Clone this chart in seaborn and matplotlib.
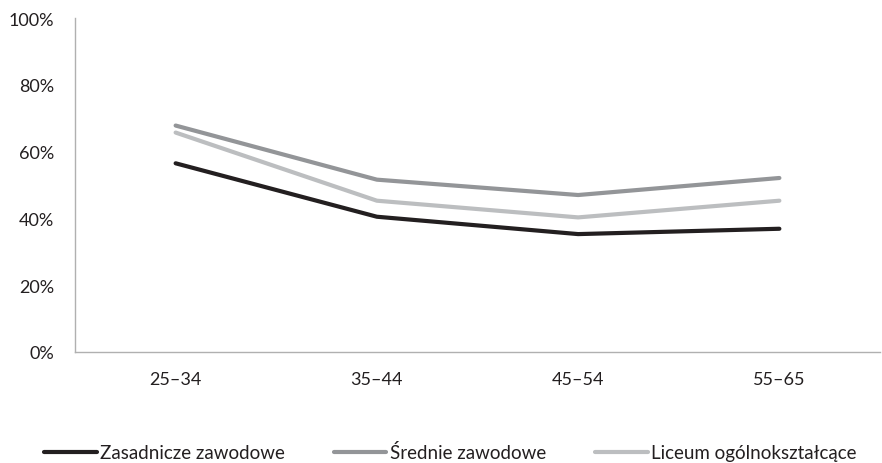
import matplotlib
matplotlib.use("Agg")
import matplotlib.pyplot as plt
import seaborn as sns
import pandas as pd
import numpy as np

categories = ["25–34", "35–44", "45–54", "55–65"]
series_names = ["Zasadnicze zawodowe", "Średnie zawodowe", "Liceum ogólnokształcące"]
zasadnicze = [56.5, 40.5, 35.3, 36.9]
srednie = [67.8, 51.6, 47.0, 52.1]
liceum = [65.7, 45.3, 40.3, 45.3]
colors = ["#231f20", "#939598", "#bcbec0"]
yticks = [0, 20, 40, 60, 80, 100]

rows = []
for name, vals in zip(series_names, [zasadnicze, srednie, liceum]):
    for c, v in zip(categories, vals):
        rows.append({"Wiek": c, "Udział": v, "Seria": name})
df = pd.DataFrame(rows)

sns.set_theme(style="white")
plt.rcParams["font.family"] = ["Lato", "DejaVu Sans"]

fig = plt.figure(figsize=(8.82, 4.64), dpi=100)
ax = fig.add_axes([75/882, 1 - 353/464, 805/882, (353-19)/464])
sns.lineplot(data=df, x="Wiek", y="Udział", hue="Seria", palette=colors,
             hue_order=series_names, linewidth=3, ax=ax, sort=False)

ax.set_xlim(-0.5, 3.5)
ax.set_ylim(0, 100)
ax.set_yticks(yticks)
ax.set_yticklabels([f"{t}%" for t in yticks], fontsize=13, color="#231f20")
ax.set_xticks(range(len(categories)))
ax.set_xticklabels(categories, fontsize=13, color="#231f20")
ax.set_xticks(np.arange(-0.5, 4, 1), minor=True)
ax.tick_params(axis="x", which="major", length=0, pad=14)
ax.tick_params(axis="x", which="minor", length=5, color="#b0b0b0", width=1, direction="out")
ax.tick_params(axis="y", length=6, color="#b0b0b0", width=1, direction="out", pad=9)
ax.set_xlabel("")
ax.set_ylabel("")
for s in ["top", "right"]:
    ax.spines[s].set_visible(False)
for s in ["left", "bottom"]:
    ax.spines[s].set_color("#b0b0b0")
    ax.spines[s].set_linewidth(1)

handles, labels = ax.get_legend_handles_labels()
ax.legend(handles, labels, loc="center", bbox_to_anchor=(0.5 - 27/805, -0.3), ncol=3,
          frameon=False, fontsize=13.5, handlelength=2.8, handletextpad=0.2,
          columnspacing=2.6, labelcolor="#231f20")

fig.savefig("out.png", dpi=100)
